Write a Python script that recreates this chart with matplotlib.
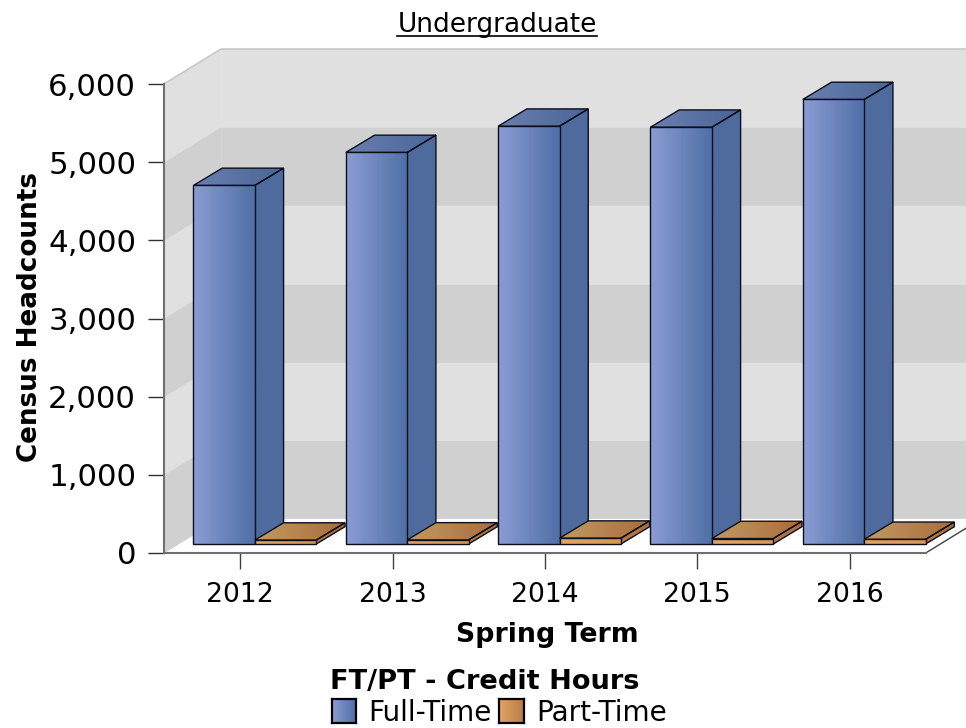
import numpy as np
import matplotlib
matplotlib.use("Agg")
import matplotlib.pyplot as plt
from matplotlib.colors import LinearSegmentedColormap
from matplotlib.lines import Line2D
from matplotlib.patches import Polygon

# data
YEARS = ["2012", "2013", "2014", "2015", "2016"]
FULL_TIME = [4587, 5009, 5345, 5332, 5687]
PART_TIME = [50, 52, 75, 70, 60]
Y_TICKS = [0, 1000, 2000, 3000, 4000, 5000, 6000]
Y_TICK_LABELS = ["0", "1,000", "2,000", "3,000", "4,000", "5,000", "6,000"]

# figure size and plot box, in pixels
W, H = 966, 728
LEFT, RIGHT, TOP, BOTTOM = 164.0, 925.7, 84.0, 553.0
YMAX = 6000
PX_X = (RIGHT - LEFT) / len(YEARS)      # px per category
PX_Y = (BOTTOM - TOP) / YMAX            # px per unit

# 3d offsets converted to data units
WALL_DX, WALL_DY = 57 / PX_X, 35 / PX_Y
BAR_DX, BAR_DY = 28.7 / PX_X, 17.3 / PX_Y
BAR_W = 61.4 / PX_X
BAR_START = -46.7 / PX_X
BASE = 9 / PX_Y

BAND_LIGHT = "#e0e0e0"
BAND_DARK = "#d0d0d0"
BLUE = {"front": ("#8a9dd4", "#4f6fa6"), "top": ("#6a7fb0", "#4a6597"), "side": ("#4f6b9e", "#4f6b9e")}
ORANGE = {"front": ("#e2a564", "#d8965a"), "top": ("#c29a62", "#a86c3c"), "side": ("#b8794a", "#a86c3c")}


def fx(px):
    return px / W


def fy(px):
    return 1 - px / H


def gradient_face(ax, pts, colors, zorder):
    """Parallelogram with a left to right gradient and a dark outline."""
    pts = np.array(pts)
    cmap = LinearSegmentedColormap.from_list("g", colors)
    extent = (pts[:, 0].min(), pts[:, 0].max(), pts[:, 1].min(), pts[:, 1].max())
    im = ax.imshow(np.linspace(0, 1, 128).reshape(1, -1), cmap=cmap, extent=extent,
                   aspect="auto", zorder=zorder, interpolation="bilinear")
    clip = Polygon(pts, closed=True, transform=ax.transData)
    im.set_clip_path(clip)
    im.set_clip_box(ax.figure.bbox)   # the faces stick out of the axes box
    ax.add_patch(Polygon(pts, closed=True, fill=False, edgecolor="#0b0f1a", linewidth=1.0,
                         zorder=zorder + 0.1, clip_on=False, joinstyle="miter"))


def draw_box(ax, x0, width, value, style, zorder):
    x1 = x0 + width
    y0, y1 = BASE, BASE + value
    gradient_face(ax, [(x1, y0), (x1 + BAR_DX, y0 + BAR_DY), (x1 + BAR_DX, y1 + BAR_DY), (x1, y1)],
                  style["side"], zorder)
    gradient_face(ax, [(x0, y1), (x1, y1), (x1 + BAR_DX, y1 + BAR_DY), (x0 + BAR_DX, y1 + BAR_DY)],
                  style["top"], zorder)
    gradient_face(ax, [(x0, y0), (x1, y0), (x1, y1), (x0, y1)], style["front"], zorder + 0.2)


def legend_swatch(fig, x, colors):
    sw = fig.add_axes([fx(x), fy(723), 24 / W, 24 / H])
    sw.imshow(np.linspace(0, 1, 64).reshape(1, -1), aspect="auto",
              cmap=LinearSegmentedColormap.from_list("s", colors))
    sw.set_xticks([])
    sw.set_yticks([])
    for s in sw.spines.values():
        s.set_linewidth(1.6)
        s.set_color("black")


def main():
    fig = plt.figure(figsize=(W / 100, H / 100), dpi=100, facecolor="white")
    ax = fig.add_axes([fx(LEFT), fy(BOTTOM), (RIGHT - LEFT) / W, (BOTTOM - TOP) / H])
    ax.patch.set_visible(False)
    xmin, xmax = -0.5, len(YEARS) - 0.5

    # walls, one band per 1000
    for i in range(len(Y_TICKS) - 1):
        lo, hi = Y_TICKS[i], Y_TICKS[i + 1]
        color = BAND_DARK if i % 2 == 0 else BAND_LIGHT
        left_wall = [(xmin, lo), (xmin + WALL_DX, lo + WALL_DY), (xmin + WALL_DX, hi + WALL_DY), (xmin, hi)]
        back_wall = [(xmin + WALL_DX, lo + WALL_DY), (xmax + WALL_DX, lo + WALL_DY),
                     (xmax + WALL_DX, hi + WALL_DY), (xmin + WALL_DX, hi + WALL_DY)]
        for pts in (left_wall, back_wall):
            ax.add_patch(Polygon(pts, closed=True, facecolor=color, edgecolor=color, linewidth=0.5,
                                 clip_on=False, zorder=1))

    # wall outline on top and floor edge on the right
    ax.plot([xmin, xmin + WALL_DX, xmax + WALL_DX], [YMAX, YMAX + WALL_DY, YMAX + WALL_DY],
            color="#c8c8c8", linewidth=1.2, clip_on=False, zorder=2)
    ax.plot([xmax, xmax + WALL_DX], [0, WALL_DY], color="#404040", linewidth=1.0, clip_on=False, zorder=2)

    # bars
    for i in range(len(YEARS)):
        x0 = i + BAR_START
        draw_box(ax, x0, BAR_W, FULL_TIME[i], BLUE, 3 + i)
        draw_box(ax, x0 + BAR_W, BAR_W, PART_TIME[i], ORANGE, 3.5 + i)

    ax.set_xlim(xmin, xmax)
    ax.set_ylim(0, YMAX)
    ax.set_xticks(range(len(YEARS)))
    ax.set_xticklabels(YEARS, fontsize=19.2)
    ax.set_yticks(Y_TICKS)
    ax.set_yticklabels(Y_TICK_LABELS, fontsize=22.2)
    ax.tick_params(axis="y", length=11.5, width=1.0, color="#303030", pad=8.6)
    ax.tick_params(axis="x", length=11.5, width=1.0, color="#404040", pad=9.5)
    ax.spines["top"].set_visible(False)
    ax.spines["right"].set_visible(False)
    for side in ("left", "bottom"):
        ax.spines[side].set_color("#707070")
        ax.spines[side].set_linewidth(1.5)
        ax.spines[side].set_zorder(20)

    # texts
    fig.text(fx(497), fy(24.5), "Undergraduate", ha="center", va="center", fontsize=19)
    fig.add_artist(Line2D([fx(397), fx(597)], [fy(36), fy(36)], color="black", linewidth=1.2))
    fig.text(fx(30), fy(317), "Census Headcounts", rotation=90, ha="center", va="center",
             fontsize=18.9, fontweight="bold")
    fig.text(fx(547), fy(635.5), "Spring Term", ha="center", va="center", fontsize=19.3, fontweight="bold")
    fig.text(fx(485), fy(682), "FT/PT - Credit Hours", ha="center", va="center", fontsize=19.6, fontweight="bold")

    # legend
    legend_swatch(fig, 332, BLUE["front"])
    legend_swatch(fig, 499.5, ("#e2a564", "#b87c48"))
    fig.text(fx(368), fy(713), "Full-Time", ha="left", va="center", fontsize=20.1)
    fig.text(fx(536), fy(713), "Part-Time", ha="left", va="center", fontsize=20.1)

    fig.savefig("out.png", dpi=100)


if __name__ == "__main__":
    main()
